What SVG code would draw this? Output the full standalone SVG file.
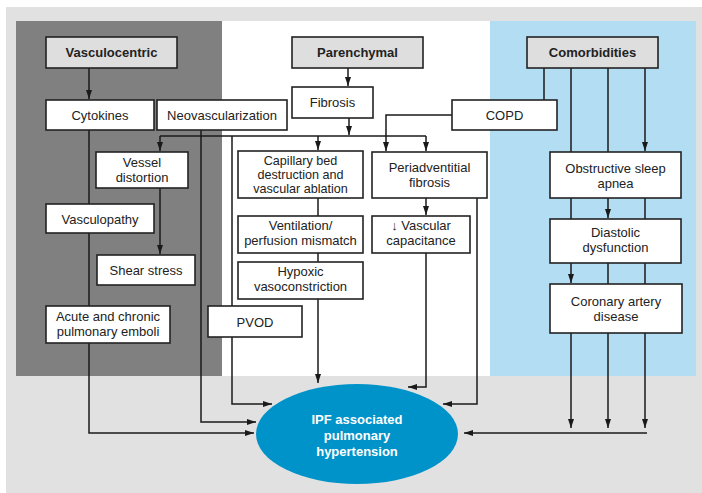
<svg xmlns="http://www.w3.org/2000/svg" width="702" height="493" viewBox="0 0 702 493">
<defs>
<marker id="ah" markerUnits="userSpaceOnUse" markerWidth="10" markerHeight="8" viewBox="0 0 10 8" refX="9" refY="4" orient="auto">
<path d="M0,1 L9,4 L0,7 Z" fill="#1a1a1a"/>
</marker>
</defs>
<style>
.box{fill:#fff;stroke:#222;stroke-width:1.6}
.hdr{fill:#dedede;stroke:#222;stroke-width:1.6}
.t{font-family:"Liberation Sans",Arial,sans-serif;font-size:13px;fill:#222;text-anchor:middle}
.s{font-size:12.6px}
.b{font-weight:bold}
.w{fill:#fff;font-weight:bold}
.c{fill:none;stroke:#1a1a1a;stroke-width:1.5}
.a{fill:none;stroke:#1a1a1a;stroke-width:1.5;marker-end:url(#ah)}
</style>
<rect x="6" y="7" width="696" height="486" fill="#e1e1e1"/>
<rect x="16" y="21" width="206" height="355" fill="#808080"/>
<rect x="222" y="21" width="268" height="355" fill="#fff"/>
<rect x="490" y="21" width="206" height="355" fill="#b3ddf2"/>
<g id="connectors">
<path class="a" d="M89,68 V99"/>
<path class="a" d="M89,130 V433 H254"/>
<path class="a" d="M201,130 V422 H256"/>
<path class="a" d="M348,68 V86"/>
<path class="a" d="M349,118 V135"/>
<path class="c" d="M160,136 H426"/>
<path class="a" d="M160,136 V151"/>
<path class="a" d="M318,136 V150"/>
<path class="a" d="M426,136 V151"/>
<path class="a" d="M232,136 V404 H272"/>
<path class="a" d="M452,115 H386 V151"/>
<path class="a" d="M160,188 V254"/>
<path class="c" d="M318,198 V216"/>
<path class="c" d="M318,253 V262"/>
<path class="a" d="M318,299 V383"/>
<path class="a" d="M426,198 V215"/>
<path class="a" d="M426,253 V387 H408"/>
<path class="a" d="M477,198 V404 H443"/>
<path class="c" d="M544,68 V100"/>
<path class="c" d="M571,68 V152"/>
<path class="c" d="M608,68 V152"/>
<path class="a" d="M645,68 V151"/>
<path class="c" d="M571,198 V219"/>
<path class="a" d="M608,198 V218"/>
<path class="c" d="M645,198 V219"/>
<path class="a" d="M571,263 V283"/>
<path class="c" d="M608,263 V284"/>
<path class="c" d="M645,263 V284"/>
<path class="a" d="M571,333 V428"/>
<path class="a" d="M608,333 V428"/>
<path class="a" d="M645,333 V428"/>
<path class="a" d="M647,433 H464"/>
</g>
<g id="vasculocentric"><rect class="hdr" x="46" y="37" width="131" height="31"/><text class="t b" x="111.5" y="57">Vasculocentric</text></g>
<g id="parenchymal"><rect class="hdr" x="292" y="37" width="131" height="31"/><text class="t b" x="357.5" y="57">Parenchymal</text></g>
<g id="comorbidities"><rect class="hdr" x="527" y="37" width="131" height="31"/><text class="t b" x="592.5" y="57">Comorbidities</text></g>
<g id="cytokines"><rect class="box" x="46" y="100" width="108" height="30"/><text class="t" x="100" y="120">Cytokines</text></g>
<g id="neovascularization"><rect class="box" x="157" y="100" width="130" height="30"/><text class="t" x="222" y="120">Neovascularization</text></g>
<g id="fibrosis"><rect class="box" x="292" y="87" width="81" height="31"/><text class="t" x="332.5" y="107">Fibrosis</text></g>
<g id="copd"><rect class="box" x="452" y="100" width="105" height="30"/><text class="t" x="504.5" y="120">COPD</text></g>
<g id="vessel-distortion"><rect class="box" x="96" y="152" width="92" height="36"/><text class="t" x="142" y="167">Vessel</text><text class="t" x="142" y="182">distortion</text></g>
<g id="capillary-bed"><rect class="box" x="238" y="151" width="125" height="47"/><text class="t s" x="300.5" y="164.5">Capillary bed</text><text class="t s" x="300.5" y="178.5">destruction and</text><text class="t s" x="300.5" y="192.5">vascular ablation</text></g>
<g id="periadventitial"><rect class="box" x="372" y="152" width="115" height="46"/><text class="t" x="429.5" y="172">Periadventitial</text><text class="t" x="429.5" y="187">fibrosis</text></g>
<g id="osa"><rect class="box" x="550" y="152" width="131" height="46"/><text class="t" x="615.5" y="173">Obstructive sleep</text><text class="t" x="615.5" y="188">apnea</text></g>
<g id="vasculopathy"><rect class="box" x="46" y="204" width="108" height="29"/><text class="t" x="100" y="224">Vasculopathy</text></g>
<g id="ventilation"><rect class="box" x="238" y="216" width="125" height="37"/><text class="t" x="300.5" y="230">Ventilation/</text><text class="t" x="300.5" y="245">perfusion mismatch</text></g>
<g id="vascular-capacitance"><rect class="box" x="372" y="216" width="98" height="37"/><text class="t" x="421" y="230">↓ Vascular</text><text class="t" x="421" y="245">capacitance</text></g>
<g id="diastolic"><rect class="box" x="550" y="219" width="131" height="44"/><text class="t" x="615.5" y="237">Diastolic</text><text class="t" x="615.5" y="252">dysfunction</text></g>
<g id="shear-stress"><rect class="box" x="97" y="255" width="98" height="30"/><text class="t" x="146" y="275">Shear stress</text></g>
<g id="hypoxic"><rect class="box" x="238" y="262" width="125" height="37"/><text class="t" x="300.5" y="276">Hypoxic</text><text class="t" x="300.5" y="291">vasoconstriction</text></g>
<g id="cad"><rect class="box" x="550" y="284" width="132" height="49"/><text class="t" x="616" y="306">Coronary artery</text><text class="t" x="616" y="321">disease</text></g>
<g id="emboli"><rect class="box" x="46" y="306" width="124" height="37"/><text class="t" x="108" y="321">Acute and chronic</text><text class="t" x="108" y="336">pulmonary emboli</text></g>
<g id="pvod"><rect class="box" x="208" y="306" width="94" height="31"/><text class="t" x="255" y="327">PVOD</text></g>
<g id="ipf-ph"><ellipse cx="357" cy="434" rx="101" ry="50" fill="#0093c9"/><text class="t w" x="357" y="424">IPF associated</text><text class="t w" x="357" y="440">pulmonary</text><text class="t w" x="357" y="456">hypertension</text></g>
</svg>
